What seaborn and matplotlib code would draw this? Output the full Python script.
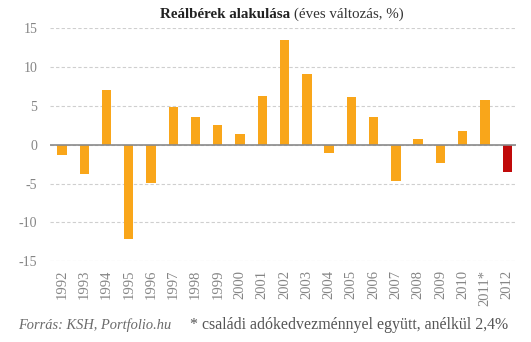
import matplotlib
matplotlib.use("Agg")
import matplotlib.pyplot as plt
import seaborn as sns
import pandas as pd

years = ["1992", "1993", "1994", "1995", "1996", "1997", "1998", "1999", "2000",
         "2001", "2002", "2003", "2004", "2005", "2006", "2007", "2008", "2009",
         "2010", "2011*", "2012"]
values = [-1.3, -3.8, 7.1, -12.1, -4.9, 4.9, 3.6, 2.5, 1.4, 6.3, 13.5, 9.1,
          -1.1, 6.2, 3.6, -4.6, 0.8, -2.3, 1.8, 5.8, -3.5]
groups = ["past"] * 20 + ["current"]
yticks = [-15, -10, -5, 0, 5, 10, 15]

palette = {"past": "#F9A61A", "current": "#C00A0A"}
SERIF = "Liberation Serif"
GREY = "#858585"

sns.set_style("white")
plt.rcParams["font.family"] = [SERIF, "DejaVu Serif"]

df = pd.DataFrame({"year": years, "value": values, "group": groups})

fig = plt.figure(figsize=(5.31, 3.42), dpi=100)
ax = fig.add_axes([0.094, 0.236, 0.878, 0.681])

sns.barplot(data=df, x="year", y="value", hue="group", palette=palette,
            dodge=False, width=0.42, legend=False, ax=ax, saturation=1,
            linewidth=0)

ax.set_ylim(-15, 15)
ax.set_xlim(-0.54, 20.4)
ax.set_yticks(yticks)
ax.set_yticklabels([str(v) for v in yticks], fontsize=10, color=GREY)
ax.yaxis.grid(True, linestyle=(0, (3, 2)), color="#CFCFCF", linewidth=0.8)
ax.set_axisbelow(True)
ax.axhline(0, color="#8A8A8A", linewidth=1.2, zorder=3)
ax.tick_params(axis="x", labelrotation=90, labelsize=10.5, colors=GREY, length=0, pad=6)
ax.tick_params(axis="y", length=0, pad=9)
ax.set_xlabel("")
ax.set_ylabel("")
for s in ax.spines.values():
    s.set_visible(False)

# Title: bold main part followed by a regular-weight note
fig.canvas.draw()
renderer = fig.canvas.get_renderer()
t1 = fig.text(160 / 531, 1 - 14 / 342, "Reálbérek alakulása", fontsize=10.8,
              fontweight="bold", color="#222222", va="center", ha="left")
bb = t1.get_window_extent(renderer=renderer)
fig.text((bb.x1 + 4) / 531, 1 - 14 / 342, "(éves változás, %)", fontsize=10.8,
         color="#333333", va="center", ha="left")

fig.text(18 / 531, 1 - 325 / 342, "Forrás: KSH, Portfolio.hu", fontsize=10.4,
         style="italic", color="#6A6A6A", va="center", ha="left")
fig.text(190 / 531, 1 - 325 / 342, "* családi adókedvezménnyel együtt, anélkül 2,4%",
         fontsize=11.4, color="#555555", va="center", ha="left")

fig.savefig("out.png", dpi=100)
